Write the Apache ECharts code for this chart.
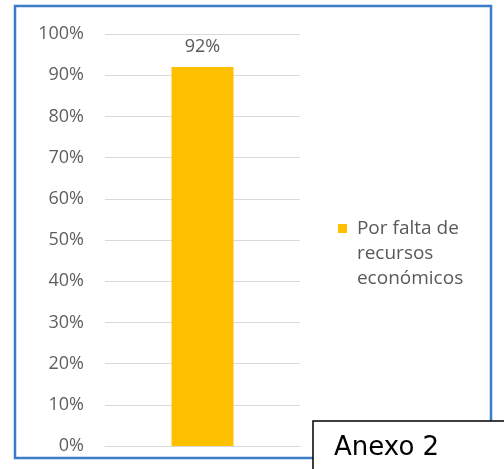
<!DOCTYPE html>
<html><head><meta charset="utf-8">
<script src="https://cdn.jsdelivr.net/npm/echarts@6/dist/echarts.min.js"></script>
<style>html,body{margin:0;padding:0;background:#fff}#c{width:504px;height:469px}</style>
</head><body><div id="c"></div>
<script>
var categories = [''];
var seriesName = 'Por falta de recursos económicos';
var legendLines = ['Por falta de', 'recursos', 'económicos'];
var values = [0.92];
var tickValues = [0,0.1,0.2,0.3,0.4,0.5,0.6,0.7,0.8,0.9,1];

var chart = echarts.init(document.getElementById('c'), null, {renderer:'canvas'});
chart.setOption({
  animation:false,
  backgroundColor:'#fff',
  grid:{left:105,right:204,top:34,bottom:23},
  xAxis:{type:'category',data:categories,axisLine:{show:true,lineStyle:{color:'#d9d9d9',width:1}},axisTick:{show:false},axisLabel:{show:false}},
  yAxis:{type:'value',min:0,max:1,interval:0.1,
    axisLine:{show:false},axisTick:{show:false},
    axisLabel:{color:'#5f5f5f',fontSize:18,fontFamily:'Open Sans',margin:21,formatter:function(v){return Math.round(v*100)+'%';}},
    splitLine:{lineStyle:{color:'#d9d9d9',width:1}}},
  legend:{orient:'vertical',left:333,top:161,itemWidth:9,itemHeight:9,icon:'rect',itemGap:0,
    formatter:function(){return '\n\n' + legendLines.map(function(s){return ' ' + s;}).join('\n');},
    textStyle:{color:'#595959',fontSize:19,fontFamily:'Open Sans',lineHeight:25}},
  series:[{type:'bar',name:seriesName,data:values,barWidth:62,itemStyle:{color:'#FFC000'},
    label:{show:true,position:'top',distance:11,color:'#595959',fontSize:18,fontFamily:'Open Sans',
      formatter:function(p){return Math.round(p.value*100)+'%';}}}],
  graphic:[
    {type:'rect',shape:{x:15,y:6,width:476,height:452},style:{fill:'none',stroke:'#3b7bc8',lineWidth:2.5},silent:true,z:100},
    {type:'rect',shape:{x:313,y:421,width:200,height:60},style:{fill:'#fff',stroke:'#000',lineWidth:1.5},z:101},
    {type:'text',style:{x:334,y:448,text:'Anexo 2',fill:'#000',font:'26px "DejaVu Sans"',verticalAlign:'middle'},z:102}
  ]
});
</script></body></html>
